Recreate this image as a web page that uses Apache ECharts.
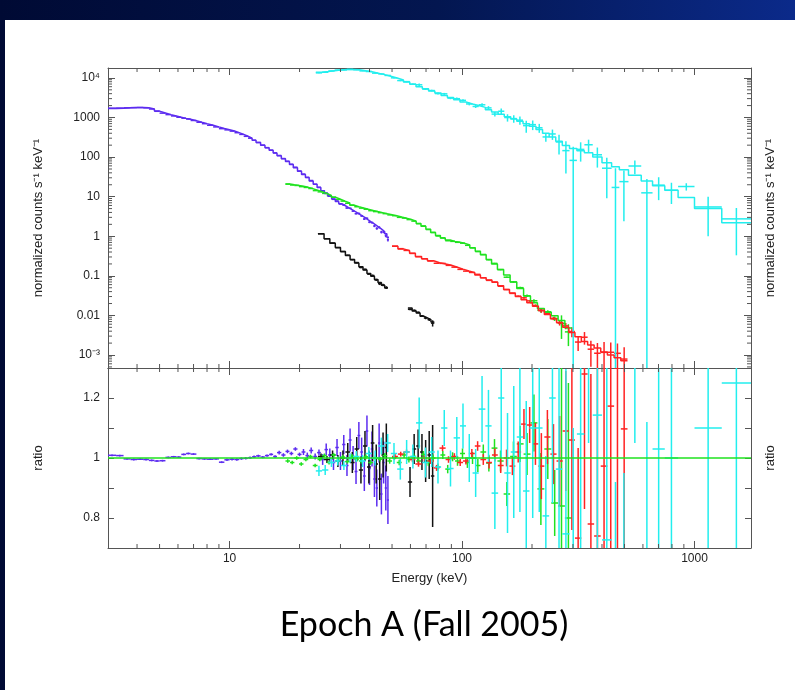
<!DOCTYPE html>
<html><head><meta charset="utf-8">
<script src="https://cdn.jsdelivr.net/npm/echarts@6/dist/echarts.min.js"></script>
<style>
html,body{margin:0;padding:0;}
#c{width:795px;height:690px;background:linear-gradient(90deg,#000a34 0%,#031650 55%,#0b2a8a 100%);}
</style>
</head><body><div id="c"></div>
<script>
// ---------- axis ranges & tick labels ----------
const xMin = 3, xMax = 1750;
const yMin = 4.7e-4, yMax = 17800;
const rMin = 0.7, rMax = 1.3, rStep = 0.1;
const xTickLabels = ['10', '100', '1000'];
const yTickExps = [-3, -2, -1, 0, 1, 2, 3, 4];
const yTickLabels = ['10\u207B\u00B3', '0.01', '0.1', '1', '10', '100', '1000', '10\u2074'];
const rTickValues = [0.8, 1, 1.2];
const rTickLabels = ['0.8', '1', '1.2'];

// ---------- purple (3-48 keV) ----------
const purpleEdges = [3.0,3.25,3.5,3.75,4.0,4.25,4.5,4.75,5.0,5.3,5.6,5.9,6.2,6.5,6.8,7.2,7.6,8.0,8.5,9.0,9.5,10.0,10.5,11.0,11.5,12.0,12.5,13.0,13.6,14.2,14.8,15.4,16.0,16.7,17.4,18.1,18.8,19.6,20.4,21.2,22.0,22.9,23.8,24.7,25.6,26.5,27.5,28.5,29.5,30.5,31.5,32.5,33.5,34.5,35.5,36.5,37.5,38.5,39.5,40.5,41.5,42.5,43.5,44.5,45.5,46.5,47.5,48.5];
const purpleModel = [1700,1720,1760,1780,1790,1760,1650,1450,1300,1180,1090,1010,950,900,830,760,700,640,580,530,490,455,415,375,335,300,265,232,200,172,148,127,108,91,77,65,54,44,36.5,30.5,25,20.5,17,14.2,12,10.2,8.7,7.5,6.6,5.9,5.3,4.8,4.3,3.9,3.5,3.2,2.9,2.6,2.35,2.15,1.95,1.75,1.6,1.45,1.3,1.15,0.95];
const purpleRatio = [1.009,1.008,0.997,0.995,0.996,0.995,0.992,0.990,0.991,1.002,1.004,1.003,1.012,1.015,1.013,0.998,0.997,0.996,0.997,0.986,0.994,0.996,0.995,0.998,0.999,1.001,1.004,1.007,1.003,1.008,1.012,1.005,1.018,1.010,1.022,1.015,1.030,1.012,1.020,1.008,1.025,1.005,1.018,0.995,1.028,1.010,0.985,1.035,0.990,1.045,0.975,1.060,1.000,0.955,1.075,1.020,0.940,1.090,0.965,1.030,0.930,0.900,1.050,0.880,0.985,0.900,0.860];
const purpleErr = [0.003,0.003,0.003,0.003,0.003,0.003,0.003,0.003,0.003,0.003,0.003,0.003,0.003,0.003,0.003,0.003,0.003,0.003,0.003,0.003,0.004,0.004,0.004,0.004,0.004,0.004,0.004,0.004,0.004,0.004,0.004,0.004,0.006,0.006,0.006,0.006,0.006,0.006,0.010,0.010,0.010,0.010,0.010,0.018,0.020,0.022,0.025,0.028,0.030,0.032,0.035,0.038,0.040,0.042,0.045,0.048,0.050,0.052,0.055,0.058,0.060,0.062,0.065,0.068,0.070,0.075,0.080];

// ---------- black (24-48 keV and 58-76 keV) ----------
const blackEdgesA = [24,25.5,27,28.5,30,31.5,33,34.5,36,37.5,39,40.5,42,43.5,45,46.5,48];
const blackModelA = [1.15,0.87,0.67,0.52,0.41,0.325,0.26,0.21,0.17,0.14,0.115,0.097,0.081,0.068,0.058,0.049];
const blackRatioA = [1.005,0.995,1.01,0.99,1.0,1.02,0.985,1.03,0.96,1.04,0.97,1.05,0.98,0.93,1.01,1.035];
const blackErrA = [0.01,0.012,0.015,0.02,0.025,0.03,0.035,0.04,0.045,0.05,0.055,0.06,0.065,0.07,0.075,0.08];
const blackEdgesB = [58.5,61,63.5,66,68.5,71,73.5,76];
const blackModelB = [0.0155,0.013,0.0115,0.0095,0.0087,0.0078,0.0068];
const blackRatioB = [0.92,1.03,1.04,1.02,0.99,1.01,0.94];
const blackErrB = [0.05,0.05,0.055,0.06,0.07,0.08,0.17];

// ---------- green (17-297 keV) ----------
const greenEdges = [17.4,18.2,19.0,19.9,20.8,21.8,22.8,23.9,25.0,26.2,27.4,28.7,30.0,31.4,32.9,34.4,36.0,37.7,39.5,41.4,43.4,45.5,47.7,50.0,52.4,55.0,57.7,60.5,63.5,66.6,69.9,73.3,76.9,80.7,84.7,88.9,93.3,98.0,103,108,114,120,127,134,142,151,161,172,184,197,211,226,242,259,277,297];
const greenModel = [21,20,19.2,18.3,17.2,16,14.6,13.3,12,10.8,9.6,8.6,7.7,6.9,6.1,5.6,5.2,4.8,4.5,4.2,3.95,3.7,3.5,3.3,3.05,2.85,2.65,2.4,2.1,1.8,1.5,1.25,1.05,0.9,0.8,0.74,0.71,0.66,0.6,0.51,0.42,0.34,0.26,0.2,0.145,0.105,0.07,0.048,0.031,0.021,0.015,0.012,0.0098,0.0075,0.0048];
const greenRatio = [0.99,0.985,1.0,0.98,0.995,1.005,0.975,0.995,1.008,0.985,1.01,0.992,1.003,0.988,1.006,0.995,0.99,1.004,0.985,1.0,0.996,1.008,0.99,1.002,0.985,1.01,0.995,1.005,0.99,1.012,0.985,1.0,0.97,1.01,0.963,1.004,0.99,1.015,0.985,1.0,0.975,1.02,0.983,1.033,0.99,0.88,1.005,1.047,1.013,1.117,0.897,1.03,0.85,0.84,0.80];
const greenErr = [0.006,0.006,0.006,0.006,0.006,0.006,0.006,0.006,0.007,0.007,0.007,0.007,0.007,0.007,0.007,0.008,0.008,0.008,0.008,0.008,0.008,0.009,0.009,0.009,0.009,0.01,0.01,0.01,0.01,0.011,0.011,0.012,0.012,0.013,0.014,0.015,0.016,0.017,0.018,0.02,0.022,0.025,0.028,0.03,0.035,0.04,0.05,0.06,0.07,0.095,0.12,0.1,0.11,0.5,0.45];

// ---------- red (50-515 keV) ----------
const redEdges = [50,53,56,59.5,63,67,71,75.5,80,85,90,95.5,101,107,113.5,120,127,134.5,142.5,151,160,169.5,179.5,190,201,213,226,240,255,271,288,306,326,347,370,395,422,451,482,515];
const redModel = [0.56,0.48,0.43,0.37,0.31,0.27,0.24,0.215,0.2,0.185,0.165,0.148,0.133,0.12,0.105,0.09,0.078,0.069,0.056,0.045,0.037,0.03,0.025,0.021,0.017,0.0135,0.0105,0.0083,0.0066,0.005,0.0037,0.0029,0.0022,0.0018,0.0015,0.0012,0.001,0.00085,0.00072];
const redRatio = [1.005,1.013,1.02,0.995,0.98,1.0,0.99,0.967,1.033,0.995,1.005,0.985,0.99,1.015,1.04,0.995,0.985,1.01,0.975,1.0,0.973,1.02,1.113,1.11,1.047,0.973,1.07,1.013,0.99,1.09,1.06,0.733,1.28,0.78,0.74,0.973,1.173,1.3,1.097];
const redErr = [0.008,0.008,0.008,0.009,0.009,0.009,0.01,0.01,0.01,0.011,0.011,0.012,0.012,0.015,0.016,0.018,0.02,0.022,0.025,0.028,0.03,0.035,0.05,0.06,0.07,0.11,0.09,0.1,0.15,0.2,0.3,0.3,0.45,0.5,0.6,0.8,0.9,1.0,1.1];

// ---------- cyan (23.5-1750 keV) ----------
const cyanEdges = [23.5,25,26.6,28.3,30.1,32,34,36.2,38.5,41,43.6,46.4,49.4,52.6,56,59.6,63.4,67.5,71.8,76.4,81.3,86.5,92,98,104,111,118,126,134,143,152,162,172,183,195,208,222,237,253,270,290,312,336,365,400,440,475,520,590,660,745,850,1000,1310,1750];
const cyanModel = [14000,14500,15200,15900,16300,16400,16000,15200,14300,13200,12100,11000,9900,8900,7900,6900,6000,5300,4700,4150,3600,3200,2800,2450,2200,2000,1800,1580,1380,1200,1050,920,800,700,600,500,400,320,250,195,165,145,128,100,72,57,48,35,25,19,14.5,9.5,5,2.2];
const cyanRatio = [0.957,0.96,0.985,0.99,0.975,1.0,1.005,0.99,1.015,1.0,1.04,1.05,1.015,0.963,1.02,1.005,1.117,0.985,1.02,0.97,1.1,0.965,1.067,1.107,1.0,0.95,1.163,1.107,0.883,1.2,0.95,1.02,1.07,0.89,1.1,1.1,0.807,1.2,0.963,0.747,0.5,1.08,1.6,1.143,0.727,0.3,0.5,1.7,0.5,1.03,1.0,1.9,1.1,1.25];
const cyanErr = [0.017,0.017,0.015,0.015,0.015,0.016,0.018,0.02,0.022,0.025,0.028,0.03,0.035,0.035,0.04,0.04,0.085,0.05,0.05,0.055,0.06,0.06,0.07,0.075,0.08,0.08,0.11,0.12,0.12,0.2,0.2,0.22,0.25,0.3,0.3,0.28,0.2,0.35,0.5,0.55,0.6,0.55,0.55,0.6,0.6,0.62,0.45,0.65,0.62,0.6,0.55,0.4,0.9,1.1];

// ---------- styling ----------
const COL = {purple:'#5c2cf0', black:'#111111', green:'#1fe21f', red:'#ff2222', cyan:'#22eeee'};
const FONT = '"Liberation Sans", Arial, Helvetica, sans-serif';
const FRAME = '#555555';

const groups = [
  {c:COL.purple, e:purpleEdges, m:purpleModel, r:purpleRatio, s:purpleErr},
  {c:COL.black, e:blackEdgesA, m:blackModelA, r:blackRatioA, s:blackErrA},
  {c:COL.black, e:blackEdgesB, m:blackModelB, r:blackRatioB, s:blackErrB},
  {c:COL.green, e:greenEdges, m:greenModel, r:greenRatio, s:greenErr},
  {c:COL.red, e:redEdges, m:redModel, r:redRatio, s:redErr},
  {c:COL.cyan, e:cyanEdges, m:cyanModel, r:cyanRatio, s:cyanErr}
];

function crossRender(color) {
  return function (params, api) {
    const a = api.coord([api.value(0), api.value(3)]);
    const b = api.coord([api.value(1), api.value(3)]);
    const p = api.coord([api.value(2), api.value(4)]);
    const q = api.coord([api.value(2), api.value(5)]);
    const st = {stroke: color, lineWidth: 1.5};
    return {type:'group', children:[
      {type:'line', shape:{x1:a[0], y1:a[1], x2:b[0], y2:b[1]}, style:st},
      {type:'line', shape:{x1:p[0], y1:p[1], x2:q[0], y2:q[1]}, style:st}
    ]};
  };
}

const series = [];
// ratio = 1 model line
series.push({type:'line', xAxisIndex:2, yAxisIndex:2, data:[], silent:true,
  markLine:{symbol:'none', silent:true, label:{show:false},
    lineStyle:{color:COL.green, type:'solid', width:1.5}, data:[{yAxis:1}]}, z:2});

groups.forEach(g => {
  const step = [];
  const top = [];
  const bot = [];
  g.m.forEach((m, i) => {
    const lo = g.e[i], hi = g.e[i+1], c = Math.sqrt(lo*hi);
    step.push([lo, m]); step.push([hi, m]);
    const v = m * g.r[i], d = m * g.s[i];
    top.push([lo, hi, c, v, (v - d) > 0 ? v - d : yMin / 100, v + d]);
    bot.push([lo, hi, c, g.r[i], g.r[i] - g.s[i], g.r[i] + g.s[i]]);
  });
  series.push({type:'line', xAxisIndex:0, yAxisIndex:0, data:step, showSymbol:false,
    lineStyle:{color:g.c, width:1.5}, clip:true, silent:true, animation:false, z:3});
  series.push({type:'custom', xAxisIndex:0, yAxisIndex:0, data:top, encode:{x:[0,1,2], y:[3,4,5]},
    renderItem:crossRender(g.c), clip:true, silent:true, z:3});
  series.push({type:'custom', xAxisIndex:2, yAxisIndex:2, data:bot, encode:{x:[0,1,2], y:[3,4,5]},
    renderItem:crossRender(g.c), clip:true, silent:true, z:3});
});

// log minor ticks (2..9 x decade)
const xMinor = [], yMinor = [];
for (let d = 1; d <= 1000; d *= 10) for (let k = 2; k <= 9; k++) { const v = k*d; if (v > xMin && v < xMax) xMinor.push([v, 1]); }
for (let p = -4; p <= 4; p++) for (let k = 2; k <= 9; k++) { const v = k*Math.pow(10, p); if (v > yMin && v < yMax) yMinor.push([1, v]); }

function xMinorRender(len) {
  return function (params, api) {
    const cs = params.coordSys;
    const x = api.coord([api.value(0), api.value(1)])[0];
    const st = {stroke: FRAME, lineWidth: 1};
    return {type:'group', children:[
      {type:'line', shape:{x1:x, y1:cs.y + cs.height, x2:x, y2:cs.y + cs.height - len}, style:st},
      {type:'line', shape:{x1:x, y1:cs.y, x2:x, y2:cs.y + len}, style:st}
    ]};
  };
}
function yMinorRender(len) {
  return function (params, api) {
    const cs = params.coordSys;
    const y = api.coord([api.value(0), api.value(1)])[1];
    const st = {stroke: FRAME, lineWidth: 1};
    return {type:'group', children:[
      {type:'line', shape:{x1:cs.x, y1:y, x2:cs.x + len, y2:y}, style:st},
      {type:'line', shape:{x1:cs.x + cs.width, y1:y, x2:cs.x + cs.width - len, y2:y}, style:st}
    ]};
  };
}
series.push({type:'custom', xAxisIndex:0, yAxisIndex:0, data:xMinor, encode:{x:0, y:1}, renderItem:xMinorRender(4), silent:true, z:5});
series.push({type:'custom', xAxisIndex:0, yAxisIndex:0, data:yMinor, encode:{x:0, y:1}, renderItem:yMinorRender(4), silent:true, z:5});
series.push({type:'custom', xAxisIndex:2, yAxisIndex:2, data:xMinor, encode:{x:0, y:1}, renderItem:xMinorRender(4), silent:true, z:5});

function isDecade(v) { const l = Math.log10(v); return Math.abs(l - Math.round(l)) < 1e-6; }
const axisLine = {show:true, onZero:false, lineStyle:{color:FRAME, width:1}};
const tick = (len) => ({show:true, inside:true, length:len, lineStyle:{color:FRAME, width:1}});
const labelStyle = {fontFamily:FONT, fontSize:12, color:'#222'};
const nameStyle = {fontFamily:FONT, fontSize:13, color:'#222'};

function xAx(grid, pos, labels, name) {
  return {type:'log', gridIndex:grid, position:pos, min:xMin, max:xMax, logBase:10,
    axisLine:axisLine, axisTick:tick(7), splitLine:{show:false}, minorTick:{show:false},
    axisLabel: labels ? Object.assign({show:true, margin:5, formatter: v => {
        if (!isDecade(v)) return ''; const s = String(Math.round(v)); return xTickLabels.indexOf(s) >= 0 ? s : ''; }}, labelStyle)
      : {show:false},
    name: name || '', nameLocation:'middle', nameGap:24, nameTextStyle:nameStyle};
}

const option = {
  animation:false,
  backgroundColor:'transparent',
  graphic:{elements:[{type:'rect', z:-100, silent:true, shape:{x:5, y:20, width:790, height:670}, style:{fill:'#ffffff'}}]},
  title:{text:'Epoch A (Fall 2005)', left:419, top:603, textAlign:'center',
    textStyle:{fontFamily:'Lato, "Open Sans", sans-serif', fontSize:34, fontWeight:'normal', color:'#000'}},
  grid:[
    {left:108, top:68, width:643, height:300},
    {left:108, top:368, width:643, height:180}
  ],
  xAxis:[
    xAx(0, 'bottom', false),
    xAx(0, 'top', false),
    xAx(1, 'bottom', true, 'Energy (keV)'),
    xAx(1, 'top', false)
  ],
  yAxis:[
    {type:'log', gridIndex:0, position:'left', min:yMin, max:yMax, logBase:10,
      axisLine:axisLine, axisTick:tick(7), splitLine:{show:false},
      axisLabel:Object.assign({margin:8, formatter: v => {
        if (!isDecade(v)) return ''; const i = yTickExps.indexOf(Math.round(Math.log10(v))); return i >= 0 ? yTickLabels[i] : ''; }}, labelStyle),
      name:'normalized counts s\u207B\u00B9 keV\u207B\u00B9', nameLocation:'middle', nameRotate:90, nameGap:63, nameTextStyle:nameStyle},
    {type:'log', gridIndex:0, position:'right', min:yMin, max:yMax, logBase:10,
      axisLine:axisLine, axisTick:tick(7), splitLine:{show:false}, axisLabel:{show:false},
      name:'normalized counts s\u207B\u00B9 keV\u207B\u00B9', nameLocation:'middle', nameRotate:90, nameGap:13, nameTextStyle:nameStyle},
    {type:'value', gridIndex:1, position:'left', min:rMin, max:rMax, interval:rStep,
      axisLine:axisLine, axisTick:tick(6), splitLine:{show:false},
      axisLabel:Object.assign({margin:8, formatter: v => {
        for (let i = 0; i < rTickValues.length; i++) if (Math.abs(v - rTickValues[i]) < 1e-6) return rTickLabels[i];
        return ''; }}, labelStyle),
      name:'ratio', nameLocation:'middle', nameRotate:90, nameGap:63, nameTextStyle:nameStyle},
    {type:'value', gridIndex:1, position:'right', min:rMin, max:rMax, interval:rStep,
      axisLine:axisLine, axisTick:tick(6), splitLine:{show:false}, axisLabel:{show:false},
      name:'ratio', nameLocation:'middle', nameRotate:90, nameGap:13, nameTextStyle:nameStyle}
  ],
  series:series
};

const chart = echarts.init(document.getElementById('c'), null, {renderer:'canvas'});
chart.setOption(option);
</script>
</body></html>
